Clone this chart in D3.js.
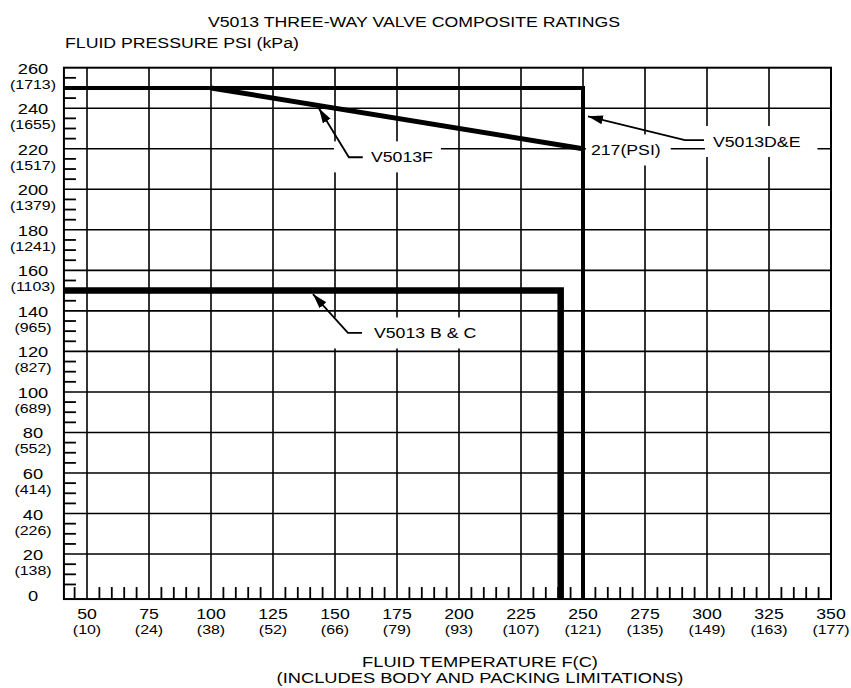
<!DOCTYPE html>
<html>
<head>
<meta charset="utf-8">
<script src="https://cdn.jsdelivr.net/npm/d3@7"></script>
<style>
  body { margin: 0; background: #fff; }
  svg text { font-family: "Liberation Sans", Arial, Helvetica, sans-serif; fill: #000; }
</style>
</head>
<body>
<svg id="chart" width="851" height="688"></svg>
<script>
// ---- data ----
const title = 'V5013 THREE-WAY VALVE COMPOSITE RATINGS';
const yTitle = 'FLUID PRESSURE PSI (kPa)';
const xTitle = ['FLUID TEMPERATURE F(C)', '(INCLUDES BODY AND PACKING LIMITATIONS)'];

const tempF = [50, 75, 100, 125, 150, 175, 200, 225, 250, 275, 300, 325, 350];
const tempC = ['(10)', '(24)', '(38)', '(52)', '(66)', '(79)', '(93)', '(107)', '(121)', '(135)', '(149)', '(163)', '(177)'];
const psi = [0, 20, 40, 60, 80, 100, 120, 140, 160, 180, 200, 220, 240, 260];
const kpa = ['', '(138)', '(226)', '(414)', '(552)', '(689)', '(827)', '(965)', '(1103)', '(1241)', '(1379)', '(1517)', '(1655)', '(1713)'];

const tMin = 40.7, tMax = 350;   // temperature axis ends (F)
const pMin = -2.2, pMax = 260;   // pressure axis ends (psi)

// series: temperature (F) / pressure (psi)
const deTemp = [tMin, 250, 250];
const dePsi  = [250, 250, pMin];
const fTemp  = [100, 250];
const fPsi   = [250, 220];
const bcTemp = [tMin, 241, 241];
const bcPsi  = [150, 150, pMin];

// callouts, in data units: arrow tip, elbow, end of leader, text start/centre
const notes = [
  { label: 'V5013D&E', tip: [252, 236], elbow: [291.1, 224.3], end: [298.8, 224.3], text: [302.4, 223.6], padL: 8, padR: 17 },
  { label: '217(PSI)', tip: null, text: [253.2, 219.4], padL: 5, padR: 10 },
  { label: 'V5013F', tip: [143.5, 240], elbow: [155.6, 215.8], end: [161.2, 215.8], text: [164.5, 216], padL: 37, padR: 8 },
  { label: 'V5013 B & C', tip: [141.1, 148.3], elbow: [155.2, 129.1], end: [160.9, 129.1], text: [165.7, 129.1], padL: 40, padR: 8 }
];

// ---- drawing ----
const SX = 1.18; // the source lettering is wide
const svg = d3.select('#chart');

const x = d3.scaleLinear().domain([50, 350]).range([87, 831]);
const y = d3.scaleLinear().domain([0, 260]).range([594.6, 67.7]);

function txt(g, px, py, s, size, anchor) {
  return g.append('text')
    .attr('transform', 'translate(' + px + ',' + py + ') scale(' + SX + ',1)')
    .attr('text-anchor', anchor || 'start')
    .style('font-size', size + 'px')
    .text(s);
}

// titles
txt(svg, 414, 26.7, title, 15, 'middle');
txt(svg, 65, 47.5, yTitle, 15, 'start');
txt(svg, 480, 666.5, xTitle[0], 15.5, 'middle');
txt(svg, 480, 683, xTitle[1], 15.5, 'middle');

// grid
const grid = svg.append('g').attr('stroke', '#000').attr('stroke-width', 1.6);
grid.selectAll('.vg').data(tempF.filter(d => d < tMax)).enter().append('line')
  .attr('x1', d => x(d)).attr('x2', d => x(d))
  .attr('y1', y(pMin)).attr('y2', y(pMax));
grid.selectAll('.hg').data(psi.filter(d => d > 0 && d < pMax)).enter().append('line')
  .attr('y1', d => y(d)).attr('y2', d => y(d))
  .attr('x1', x(tMin)).attr('x2', x(tMax));

// minor ticks
const ticks = svg.append('g').attr('stroke', '#000').attr('stroke-width', 1.8);
ticks.selectAll('.xt').data(d3.range(45, 350, 5).filter(d => d % 25 !== 0)).enter().append('line')
  .attr('x1', d => x(d)).attr('x2', d => x(d))
  .attr('y1', y(pMin)).attr('y2', y(pMin) - 12);
ticks.selectAll('.yt').data(d3.range(5, 260, 5).filter(d => d % 20 !== 0)).enter().append('line')
  .attr('y1', d => y(d)).attr('y2', d => y(d))
  .attr('x1', x(tMin)).attr('x2', x(tMin) + 12);

// frame
svg.append('rect')
  .attr('x', x(tMin)).attr('y', y(pMax))
  .attr('width', x(tMax) - x(tMin)).attr('height', y(pMin) - y(pMax))
  .attr('fill', 'none').attr('stroke', '#000').attr('stroke-width', 2);

// axis labels
const yl = svg.append('g');
psi.forEach((v, i) => {
  txt(yl, 33, y(v) + 6, String(v), 15.5, 'middle');
  if (kpa[i]) txt(yl, 33, y(v) + 21, kpa[i], 13.5, 'middle');
});
const xl = svg.append('g');
tempF.forEach((v, i) => {
  txt(xl, x(v), 619, String(v), 15, 'middle');
  txt(xl, x(v), 634, tempC[i], 13.5, 'middle');
});

// callout backgrounds (they blank out the grid)
const boxes = svg.append('g');
const labels = svg.append('g');
notes.forEach(n => {
  const tx = x(n.text[0]), ty = y(n.text[1]);
  const t = txt(labels, tx, ty + 5.5, n.label, 15, 'start');
  const w = t.node().getComputedTextLength() * SX;
  boxes.append('rect')
    .attr('x', tx - n.padL).attr('y', ty - 15.5)
    .attr('width', w + n.padL + n.padR).attr('height', 31)
    .attr('fill', '#fff');
});

// series
const line = d3.line().x(d => x(d[0])).y(d => y(d[1])).curve(d3.curveLinear);
const series = [
  { t: deTemp, p: dePsi, w: 4 },
  { t: fTemp, p: fPsi, w: 5 },
  { t: bcTemp, p: bcPsi, w: 6.5 }
];
svg.append('g').selectAll('path').data(series).enter().append('path')
  .attr('d', s => line(s.t.map((v, i) => [v, s.p[i]])))
  .attr('fill', 'none').attr('stroke', '#000')
  .attr('stroke-width', s => s.w)
  .attr('stroke-linejoin', 'miter').attr('stroke-linecap', 'butt');

// leaders with arrow heads
svg.append('defs').append('marker')
  .attr('id', 'arrow').attr('markerUnits', 'userSpaceOnUse')
  .attr('markerWidth', 16).attr('markerHeight', 10)
  .attr('refX', 15).attr('refY', 4.5).attr('orient', 'auto')
  .append('path').attr('d', 'M0,0 L15,4.5 L0,9 Z').attr('fill', '#000');

svg.append('g').selectAll('path').data(notes.filter(n => n.tip)).enter().append('path')
  .attr('d', n => line([n.end, n.elbow, n.tip]))
  .attr('fill', 'none').attr('stroke', '#000').attr('stroke-width', 1.8)
  .attr('marker-end', 'url(#arrow)');

labels.raise();
</script>
</body>
</html>
